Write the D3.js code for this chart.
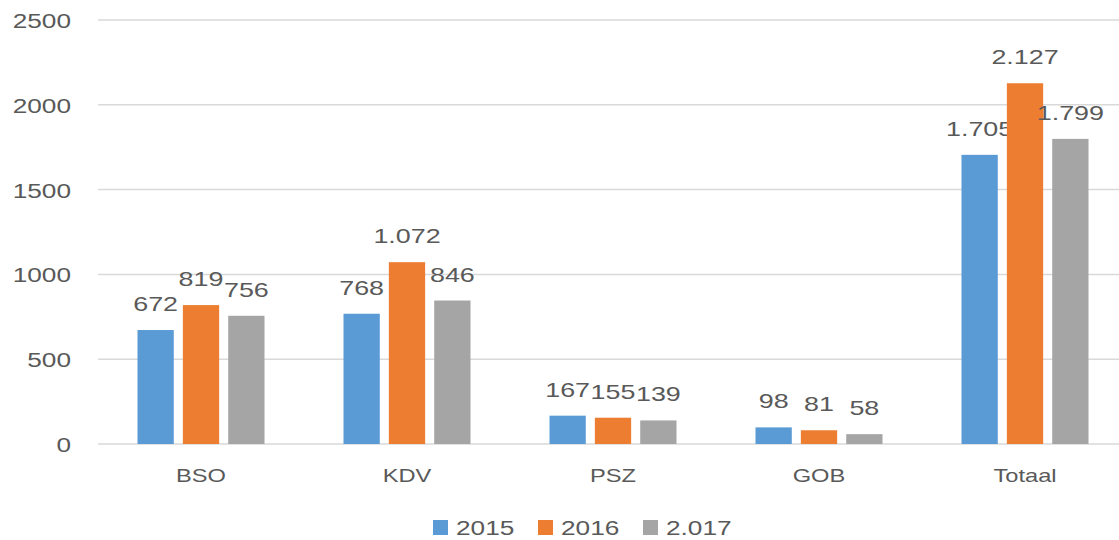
<!DOCTYPE html>
<html>
<head>
<meta charset="utf-8">
<script src="https://cdn.jsdelivr.net/npm/d3@7"></script>
<style>
  body { margin: 0; background: #fff; }
  text { font-family: "Liberation Sans", Arial, sans-serif; fill: #595959; }
</style>
</head>
<body>
<svg id="chart" width="1119" height="540"></svg>
<script>
var categories = ['BSO', 'KDV', 'PSZ', 'GOB', 'Totaal'];
var seriesNames = ['2015', '2016', '2.017'];
var values2015 = [672, 768, 167, 98, 1705];
var values2016 = [819, 1072, 155, 81, 2127];
var values2017 = [756, 846, 139, 58, 1799];
var yTicks = [0, 500, 1000, 1500, 2000, 2500];
var colors = ['#5B9BD5', '#ED7D31', '#A5A5A5'];

var series = [values2015, values2016, values2017];
var stretch = 1.28; // text in the picture is stretched horizontally

var svg = d3.select('#chart');
var plotLeft = 98, plotRight = 1128, plotTop = 20, plotBottom = 444;

var x = d3.scaleBand().domain(categories).range([plotLeft, plotRight]);
var xInner = d3.scaleBand().domain(seriesNames)
  .range([0, 127]).paddingInner(0.2);
var y = d3.scaleLinear().domain([0, 2500]).range([plotBottom, plotTop]);

var nl = d3.formatLocale({decimal: ',', thousands: '.', grouping: [3], currency: ['€', '']});
var fmt = nl.format(',d');

function stretchedText(g, tx, ty, str, size, anchor) {
  return g.append('text')
    .attr('transform', 'translate(' + tx + ',' + ty + ') scale(' + stretch + ',1)')
    .attr('text-anchor', anchor)
    .style('font-size', size + 'px')
    .text(str);
}

// gridlines + y labels
var grid = svg.append('g');
yTicks.forEach(function (t) {
  grid.append('line')
    .attr('x1', plotLeft).attr('x2', 1119)
    .attr('y1', y(t)).attr('y2', y(t))
    .attr('stroke', '#d9d9d9').attr('stroke-width', 1.5);
  stretchedText(grid, 71, y(t) + 8, t, 20.5, 'end');
});

// bars
var groupOffset = (x.bandwidth() - 127) / 2;
var groups = svg.append('g');
categories.forEach(function (c, ci) {
  series.forEach(function (vals, si) {
    var bx = x(c) + groupOffset + xInner(seriesNames[si]);
    var v = vals[ci];
    groups.append('rect')
      .attr('x', bx).attr('y', y(v))
      .attr('width', xInner.bandwidth())
      .attr('height', y(0) - y(v))
      .attr('fill', colors[si]);
    stretchedText(groups, bx + xInner.bandwidth() / 2, y(v) - 19, fmt(v), 21, 'middle');
  });
  stretchedText(groups, x(c) + x.bandwidth() / 2, 482, c, 18.5, 'middle');
});

// legend
var legend = svg.append('g');
var legendX = [433, 538, 643];
seriesNames.forEach(function (s, i) {
  legend.append('rect')
    .attr('x', legendX[i]).attr('y', 520)
    .attr('width', 15).attr('height', 15)
    .attr('fill', colors[i]);
  stretchedText(legend, legendX[i] + 23, 535, s, 20.5, 'start');
});
</script>
</body>
</html>
